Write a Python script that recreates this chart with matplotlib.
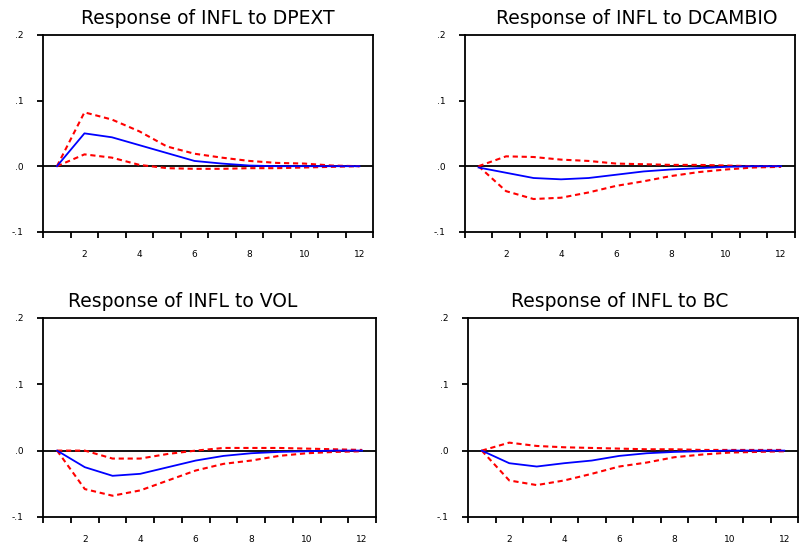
import numpy as np
import matplotlib.pyplot as plt
from matplotlib.ticker import FixedLocator

# periods 1..12
periods = np.arange(1, 13)

# Response of INFL to DPEXT
dpext_resp = [0.0, 0.050, 0.044, 0.032, 0.020, 0.008, 0.004, 0.001, 0.0, 0.0, 0.0, 0.0]
dpext_up = [0.0, 0.082, 0.071, 0.053, 0.030, 0.019, 0.013, 0.008, 0.005, 0.004, 0.001, 0.0]
dpext_lo = [0.0, 0.018, 0.013, 0.002, -0.003, -0.004, -0.004, -0.003, -0.003, -0.002, -0.001, 0.0]

# Response of INFL to DCAMBIO
dcambio_resp = [-0.002, -0.010, -0.018, -0.020, -0.018, -0.013, -0.008, -0.005, -0.003, -0.001, 0.0, 0.0]
dcambio_up = [0.0, 0.015, 0.014, 0.010, 0.008, 0.004, 0.003, 0.002, 0.002, 0.001, 0.0, 0.0]
dcambio_lo = [0.0, -0.038, -0.050, -0.048, -0.040, -0.030, -0.023, -0.015, -0.009, -0.005, -0.002, -0.001]

# Response of INFL to VOL
vol_resp = [0.0, -0.025, -0.038, -0.035, -0.025, -0.015, -0.008, -0.004, -0.002, -0.001, 0.0, 0.0]
vol_up = [0.0, 0.0, -0.012, -0.012, -0.005, 0.0, 0.004, 0.004, 0.004, 0.003, 0.002, 0.001]
vol_lo = [0.0, -0.058, -0.068, -0.060, -0.045, -0.030, -0.020, -0.015, -0.008, -0.004, -0.002, -0.001]

# Response of INFL to BC
bc_resp = [0.0, -0.019, -0.024, -0.019, -0.015, -0.008, -0.004, -0.002, -0.001, 0.0, 0.0, 0.0]
bc_up = [0.0, 0.012, 0.007, 0.005, 0.004, 0.003, 0.002, 0.002, 0.001, 0.001, 0.001, 0.001]
bc_lo = [0.0, -0.045, -0.052, -0.045, -0.035, -0.024, -0.018, -0.010, -0.006, -0.003, -0.002, -0.001]

panels = [
    ("Response of INFL to DPEXT", dpext_resp, dpext_up, dpext_lo, [0.054, 0.573, 0.4125, 0.3628], 0.5),
    ("Response of INFL to DCAMBIO", dcambio_resp, dcambio_up, dcambio_lo, [0.581, 0.573, 0.4125, 0.3628], 0.52),
    ("Response of INFL to VOL", vol_resp, vol_up, vol_lo, [0.054, 0.048, 0.416, 0.3665], 0.42),
    ("Response of INFL to BC", bc_resp, bc_up, bc_lo, [0.585, 0.048, 0.4125, 0.3665], 0.46),
]

fig = plt.figure(figsize=(8, 5.43), dpi=100)

for title, resp, up, lo, pos, tx in panels:
    ax = fig.add_axes(pos)
    ax.axhline(0, color='black', lw=1.3, zorder=1)
    ax.plot(periods, up, color='red', lw=1.5, ls=(0, (2.5, 1.8)), zorder=2)
    ax.plot(periods, lo, color='red', lw=1.5, ls=(0, (2.5, 1.8)), zorder=2)
    ax.plot(periods, resp, color='blue', lw=1.3, zorder=3)
    ax.set_xlim(0.5, 12.5)
    ax.set_ylim(-0.1, 0.2)
    ax.xaxis.set_major_locator(FixedLocator(np.arange(0.5, 13, 1)))
    ax.xaxis.set_minor_locator(FixedLocator([2, 4, 6, 8, 10, 12]))
    ax.set_xticklabels([])
    ax.set_xticklabels(['2', '4', '6', '8', '10', '12'], minor=True)
    ax.tick_params(axis='x', which='major', direction='out', length=4, width=1.3)
    ax.tick_params(axis='x', which='minor', length=0, labelsize=6.5, pad=13)
    ax.set_yticks([-0.1, 0.0, 0.1, 0.2])
    ax.set_yticklabels(['-.1', '.0', '.1', '.2'])
    ax.tick_params(axis='y', direction='out', length=4, width=1.3, labelsize=6.5, pad=10)
    for s in ax.spines.values():
        s.set_linewidth(1.3)
    ax.text(tx, 1.035, title, transform=ax.transAxes, ha='center', va='bottom', fontsize=13.5)

fig.savefig('out.png', dpi=100)
